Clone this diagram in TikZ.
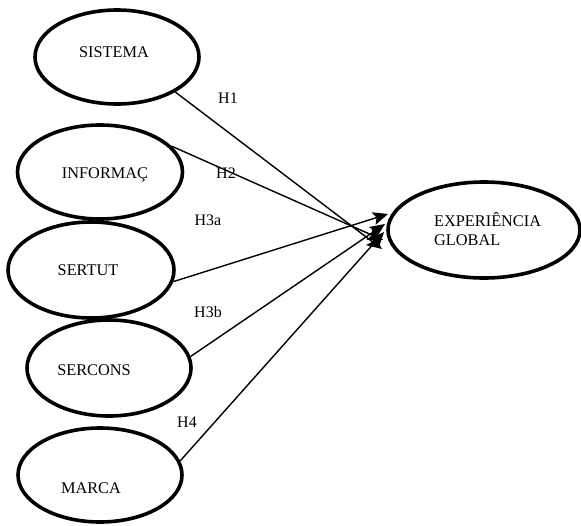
\documentclass[tikz,border=0pt]{standalone}
\usepackage{fontspec}
\setmainfont{Liberation Serif}
\usetikzlibrary{shapes.geometric,arrows.meta}
\tikzset{
  construct/.style={draw, ellipse, line width=3.6pt, inner sep=0pt},
  lbl/.style={font=\fontsize{16.3}{19}\selectfont, inner sep=0pt},
  hyp/.style={font=\fontsize{16}{19}\selectfont, inner sep=0pt},
  link/.style={line width=1.4pt, -{Stealth[length=15pt,width=13pt,inset=3pt]}}
}
\begin{document}
\begin{tikzpicture}[x=1pt,y=-1pt]
\useasboundingbox (0,0) rectangle (581,525);
% ellipses
\node[construct, minimum width=164pt, minimum height=94pt] (sis) at (117,57) {};
\node[construct, minimum width=165pt, minimum height=94pt] (inf) at (100,172) {};
\node[construct, minimum width=166pt, minimum height=96pt] (ser) at (91,270) {};
\node[construct, minimum width=164pt, minimum height=96pt] (sco) at (109,368) {};
\node[construct, minimum width=164pt, minimum height=94pt] (mar) at (100,475) {};
\node[construct, minimum width=192pt, minimum height=96pt] (exp) at (484,230) {};
% texts
\node[lbl] (tsis) at (114,52) {SISTEMA};
\node[lbl] (tinf) at (105,175) {INFORMAÇ};
\node[lbl] (tser) at (88,270) {SERTUT};
\node[lbl] (tsco) at (94,370) {SERCONS};
\node[lbl] (tmar) at (91,488) {MARCA};
\node[lbl, align=left, anchor=west] (texp) at (434,229) {EXPERIÊNCIA\\GLOBAL};
% arrow tips
\coordinate (t1) at (382,249);
\coordinate (t2) at (383,240);
\coordinate (t3a) at (388,214);
\coordinate (t3b) at (385,224);
\coordinate (t4) at (384,232);
% connectors
\draw[link] (sis.-31) -- (t1);
\draw[link] (inf.20) -- (t2);
\draw[link] (ser.-8) -- (t3a);
\draw[link] (sco.8) -- (t3b);
\draw[link] (mar.10) -- (t4);
% hypothesis labels
\node[hyp] (h1) at (228,98) {H1};
\node[hyp] (h2) at (226,173) {H2};
\node[hyp] (h3a) at (208,220) {H3a};
\node[hyp] (h3b) at (208,312) {H3b};
\node[hyp] (h4) at (187,422) {H4};
\end{tikzpicture}
\end{document}
